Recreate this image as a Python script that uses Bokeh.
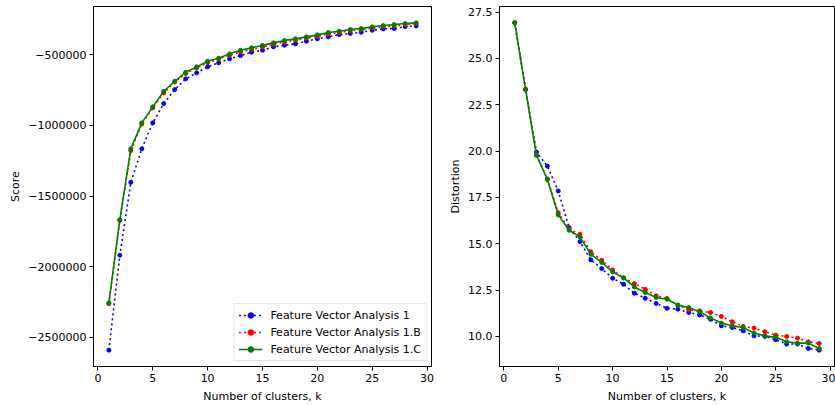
from bokeh.plotting import figure
from bokeh.layouts import row
from bokeh.models import FixedTicker, Legend, LegendItem, Range1d
from bokeh.embed import file_html
from bokeh.resources import INLINE

# ---------------- data ----------------
k_values = list(range(1, 30))

score_fva1 = [-2591000, -1919000, -1403000, -1165700, -981600, -844900, -745700,
              -670000, -627500, -585000, -556600, -528300, -505000, -481600,
              -467400, -443300, -432000, -422100, -403700, -386700, -372500,
              -356200, -349200, -340000, -325800, -315900, -313700, -300000,
              -295000]
score_fva1b = [-2262000, -1672000, -1178000, -990000, -875000, -770000, -693000,
               -632000, -592000, -556000, -530000, -502000, -480000, -462000,
               -445000, -425000, -410000, -396000, -383000, -368000, -353000,
               -342000, -330000, -322000, -310000, -302000, -294000, -286000,
               -279000]
score_fva1c = [-2256000, -1667000, -1165000, -981600, -868300, -757800, -687000,
               -623200, -585000, -545300, -524000, -493000, -467400, -450400,
               -433000, -415000, -398700, -386700, -372500, -358400, -342100,
               -332900, -320800, -313700, -301700, -292500, -285400, -278300,
               -273500]

dist_fva1 = [26.92, 23.32, 19.95, 19.19, 17.85, 15.87, 15.12, 14.13, 13.66, 13.14,
             12.82, 12.33, 12.06, 11.78, 11.52, 11.47, 11.29, 11.16, 10.93, 10.57,
             10.48, 10.30, 10.03, 10.00, 9.82, 9.59, 9.59, 9.35, 9.26]
dist_fva1b = [26.92, 23.35, 19.80, 18.50, 16.68, 15.80, 15.51, 14.56, 14.11, 13.59,
              13.16, 12.85, 12.55, 12.19, 12.05, 11.69, 11.43, 11.38, 11.29, 11.08,
              10.79, 10.54, 10.45, 10.25, 10.07, 10.00, 9.91, 9.71, 9.62]
dist_fva1c = [26.92, 23.32, 19.77, 18.47, 16.56, 15.73, 15.37, 14.43, 13.99, 13.48,
              13.16, 12.67, 12.37, 12.10, 12.01, 11.69, 11.56, 11.33, 11.00, 10.72,
              10.57, 10.48, 10.18, 10.03, 9.95, 9.71, 9.64, 9.64, 9.35]

series_labels = ["Feature Vector Analysis 1", "Feature Vector Analysis 1.B",
                 "Feature Vector Analysis 1.C"]

x_ticks = [0, 5, 10, 15, 20, 25, 30]
score_ticks = [-2500000, -2000000, -1500000, -1000000, -500000]
score_tick_labels = ["\u22122500000", "\u22122000000", "\u22121500000",
                     "\u22121000000", "\u2212500000"]
dist_ticks = [10.0, 12.5, 15.0, 17.5, 20.0, 22.5, 25.0, 27.5]
dist_tick_labels = ["10.0", "12.5", "15.0", "17.5", "20.0", "22.5", "25.0", "27.5"]

FONT = "DejaVu Sans"
FS = "11px"


def pad_range(vals_list, frac=0.05):
    lo = min(min(v) for v in vals_list)
    hi = max(max(v) for v in vals_list)
    d = (hi - lo) * frac
    return lo - d, hi + d


def style(p, ylabel):
    p.outline_line_color = "black"
    p.outline_line_width = 1
    p.outline_line_alpha = 1
    p.xgrid.visible = False
    p.ygrid.visible = False
    p.background_fill_color = "white"
    p.border_fill_color = "white"
    for ax in (p.xaxis[0], p.yaxis[0]):
        ax.axis_line_color = "black"
        ax.major_tick_line_color = "black"
        ax.minor_tick_line_color = None
        ax.major_tick_out = 4
        ax.major_tick_in = 0
        ax.major_label_standoff = 3
        ax.major_label_text_font = FONT
        ax.major_label_text_font_size = FS
        ax.major_label_text_color = "black"
        ax.axis_label_text_font = FONT
        ax.axis_label_text_font_size = FS
        ax.axis_label_text_font_style = "normal"
        ax.axis_label_text_color = "black"
    p.xaxis[0].axis_label = "Number of clusters, k"
    p.xaxis[0].axis_label_standoff = 5
    p.yaxis[0].axis_label = ylabel
    p.yaxis[0].axis_label_standoff = 3
    p.xaxis[0].ticker = FixedTicker(ticks=x_ticks)


def draw(p, ys):
    colors = ["#0000ff", "#ff0000", "#008000"]
    dashes = ["2 3", "2 3", "solid"]
    items = []
    for y, c, d, lab in zip(ys, colors, dashes, series_labels):
        lr = p.line(k_values, y, line_color=c, line_width=1.6, line_dash=d)
        sr = p.scatter(k_values, y, size=4, fill_color=c, line_color=c)
        items.append(LegendItem(label=lab, renderers=[lr, sr]))
    return items


x_lo, x_hi = pad_range([k_values])

# left plot
sy_lo, sy_hi = pad_range([score_fva1, score_fva1b, score_fva1c])
p1 = figure(width=439, height=405, output_backend="svg", toolbar_location=None,
            x_range=Range1d(x_lo, x_hi), y_range=Range1d(sy_lo, sy_hi),
            min_border_left=93, min_border_right=8, min_border_top=6,
            min_border_bottom=38)
style(p1, "Score")
p1.yaxis[0].ticker = FixedTicker(ticks=score_ticks)
p1.yaxis[0].major_label_overrides = {t: l for t, l in zip(score_ticks, score_tick_labels)}
items = draw(p1, [score_fva1, score_fva1b, score_fva1c])
legend = Legend(items=items, location="bottom_right", margin=5, padding=4,
                spacing=3, label_height=14, glyph_height=14, glyph_width=24,
                label_standoff=8, label_text_font=FONT, label_text_font_size=FS,
                label_text_color="black", border_line_color="#cccccc",
                border_line_width=1, background_fill_alpha=0.8)
p1.add_layout(legend)

# right plot
dy_lo, dy_hi = pad_range([dist_fva1, dist_fva1b, dist_fva1c])
p2 = figure(width=396, height=405, output_backend="svg", toolbar_location=None,
            x_range=Range1d(x_lo, x_hi), y_range=Range1d(dy_lo, dy_hi),
            min_border_left=60, min_border_right=1, min_border_top=6,
            min_border_bottom=38)
style(p2, "Distortion")
p2.yaxis[0].ticker = FixedTicker(ticks=dist_ticks)
p2.yaxis[0].major_label_overrides = {t: l for t, l in zip(dist_ticks, dist_tick_labels)}
draw(p2, [dist_fva1, dist_fva1b, dist_fva1c])

layout = row(p1, p2)
open("out.html", "w").write(file_html(layout, INLINE))
